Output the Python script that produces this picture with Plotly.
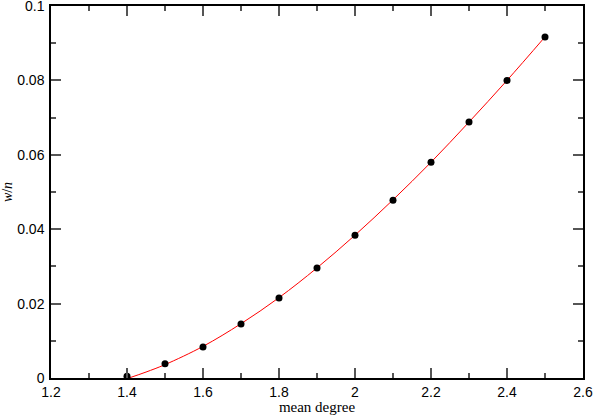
import plotly.graph_objects as go

# measured points
deg = [1.4, 1.5, 1.6, 1.7, 1.8, 1.9, 2.0, 2.1, 2.2, 2.3, 2.4, 2.5]
wn = [0.0005, 0.0038, 0.0083, 0.0145, 0.0215, 0.0296, 0.0384, 0.0478, 0.0580, 0.0688, 0.0800, 0.0917]

# fitted curve
fit_x = [1.405, 1.45, 1.5, 1.6, 1.7, 1.8, 1.9, 2.0, 2.1, 2.2, 2.3, 2.4, 2.5]
fit_y = [0.0, 0.0016, 0.0036, 0.0085, 0.0146, 0.0216, 0.0296, 0.0384, 0.0479, 0.0580, 0.0688, 0.0800, 0.0917]

x_ticks = [1.2, 1.4, 1.6, 1.8, 2.0, 2.2, 2.4, 2.6]
x_labels = ['1.2', '1.4', '1.6', '1.8', '2', '2.2', '2.4', '2.6']
y_ticks = [0, 0.02, 0.04, 0.06, 0.08, 0.1]
y_labels = ['0', '0.02', '0.04', '0.06', '0.08', '0.1']

fig = go.Figure()
fig.add_trace(go.Scatter(x=fit_x, y=fit_y, mode='lines', line=dict(color='red', width=1, shape='spline')))
fig.add_trace(go.Scatter(x=deg, y=wn, mode='markers', marker=dict(color='black', size=7)))

axis = dict(showline=True, linecolor='black', linewidth=1.5, mirror='allticks',
            ticks='inside', ticklen=10, tickcolor='#555', tickwidth=1.5,
            showgrid=False, zeroline=False, automargin=False, ticklabeloverflow='allow',
            tickfont=dict(family='Liberation Sans', size=14, color='black'))

fig.update_xaxes(range=[1.2, 2.6], tickmode='array', tickvals=x_ticks, ticktext=x_labels,
                 minor=dict(dtick=0.1, ticks='inside', ticklen=5, tickcolor='#555', tickwidth=1.5),
                 title=dict(text='mean degree', font=dict(family='Liberation Serif', size=15, color='black'), standoff=0),
                 **axis)
fig.update_yaxes(range=[0, 0.1], tickmode='array', tickvals=y_ticks, ticktext=y_labels,
                 ticklabelstandoff=2,
                 minor=dict(dtick=0.01, ticks='inside', ticklen=5, tickcolor='#555', tickwidth=1.5),
                 title=dict(text='<i>w</i>/<i>n</i>', font=dict(family='Liberation Serif', size=14, color='black'), standoff=4),
                 **axis)

fig.update_layout(width=594, height=415, showlegend=False,
                  plot_bgcolor='white', paper_bgcolor='white',
                  margin=dict(l=51, r=11, t=6, b=37))

fig.write_html("out.html", config={'displayModeBar': False},
               post_script="document.body.style.margin='0';")
